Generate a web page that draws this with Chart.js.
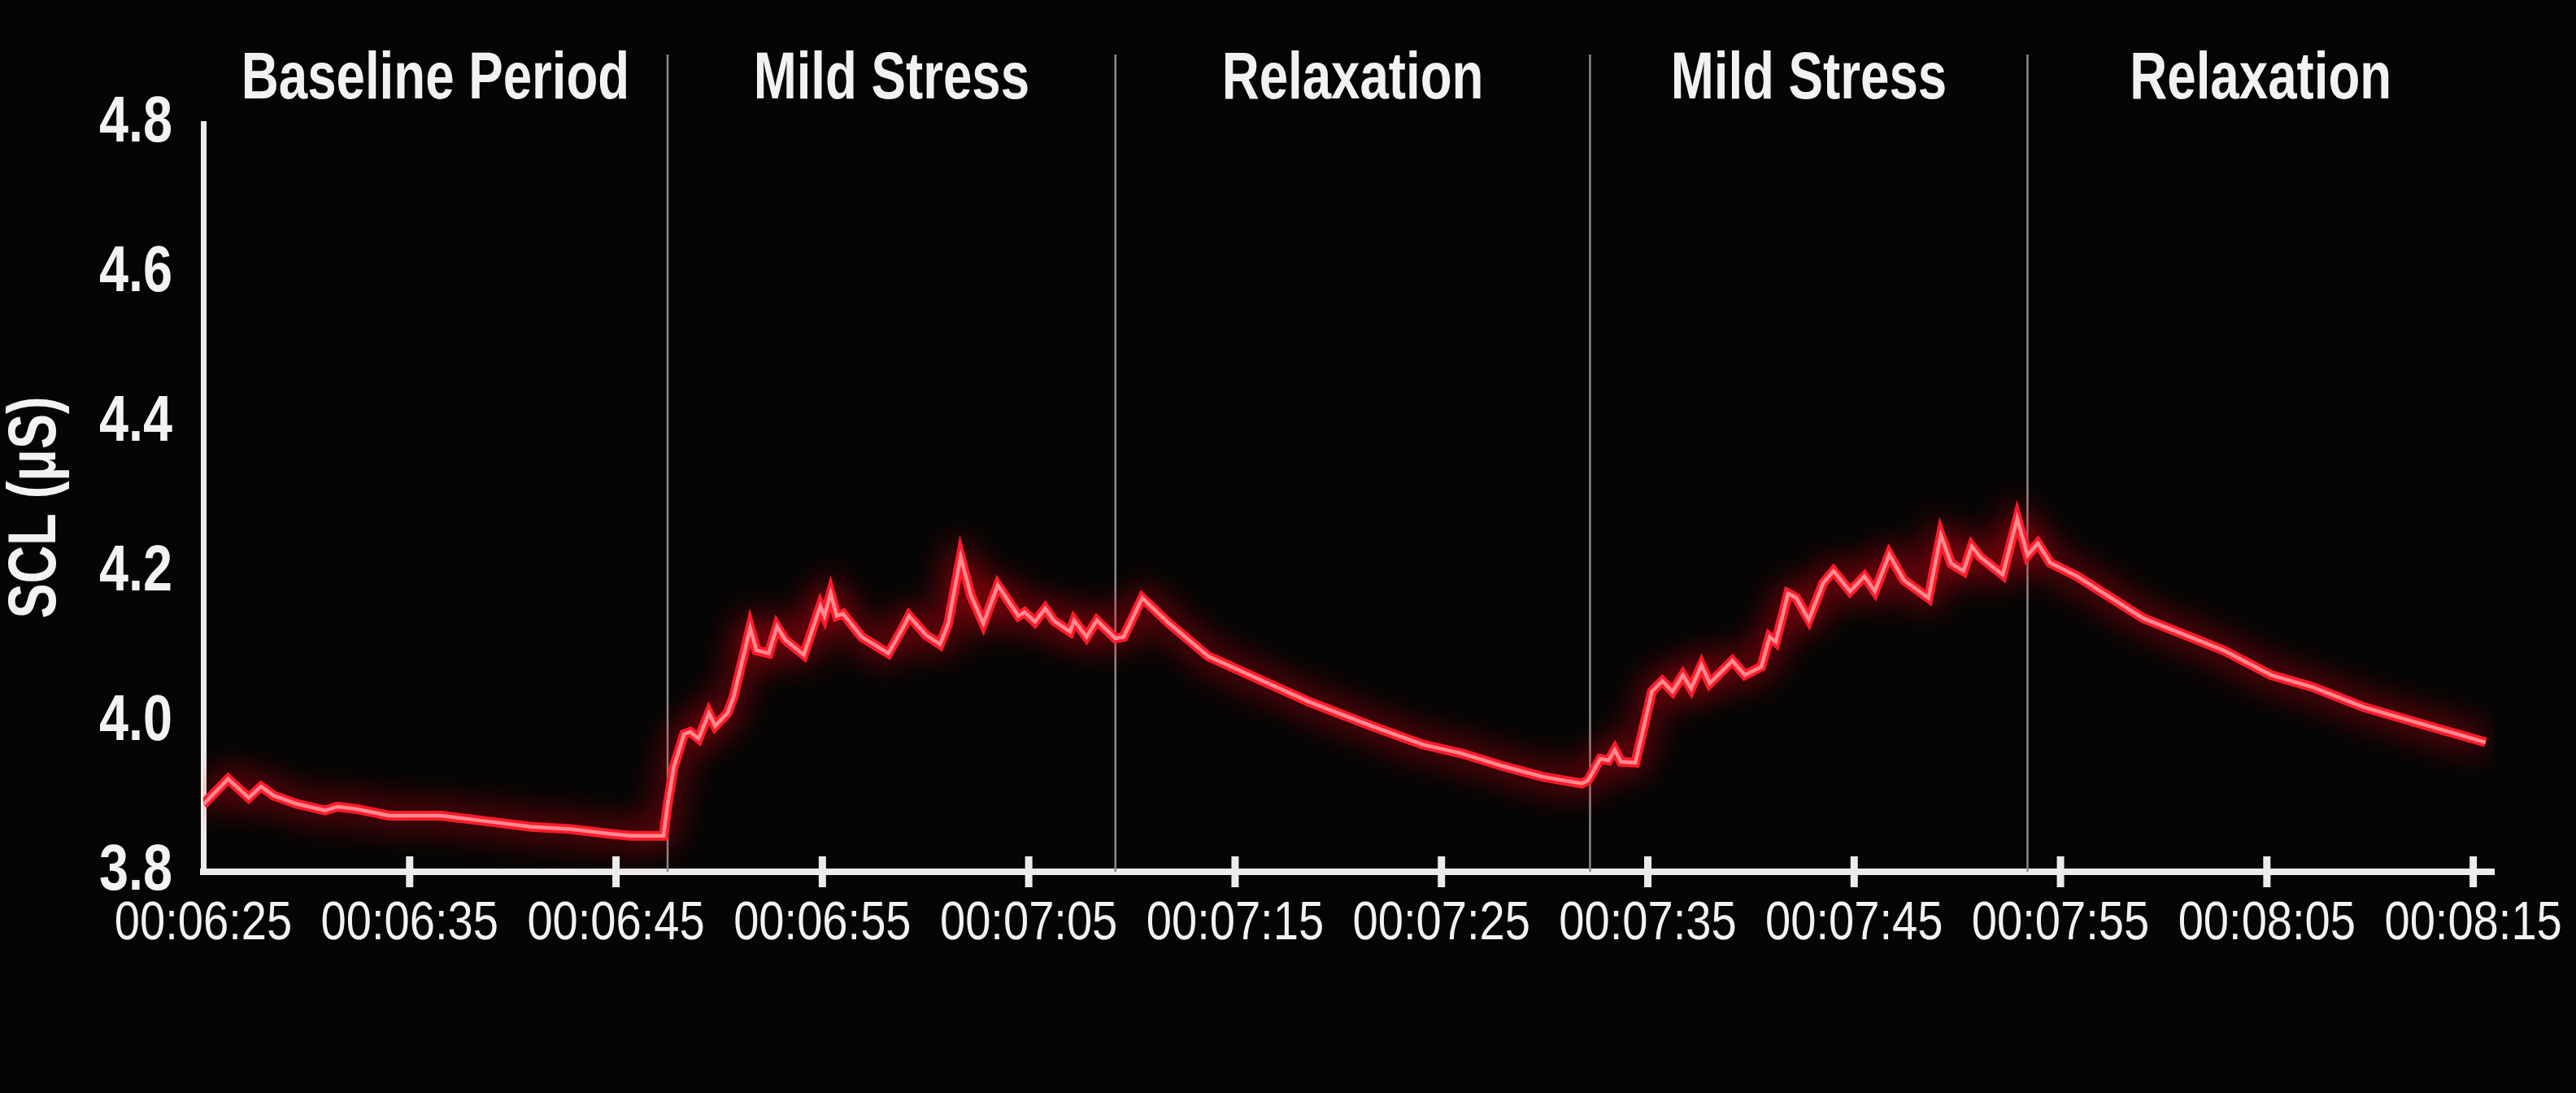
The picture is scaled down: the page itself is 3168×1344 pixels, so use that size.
<!DOCTYPE html>
<html>
<head>
<meta charset="utf-8">
<script src="https://cdn.jsdelivr.net/npm/chart.js@4.4.1/dist/chart.umd.min.js"></script>
<style>
    html, body { margin: 0; padding: 0; background: #050505; }
    #wrap { width: 3168px; height: 1344px; position: relative; }
</style>
</head>
<body>
<div id="wrap"><canvas id="sclChart"></canvas></div>
<script>
// seconds since session start, and skin conductance level
const timeSeconds = [
    385.0, 386.2, 387.2, 387.8, 388.4, 389.5, 390.9, 391.5, 392.4, 394.0,
    396.5, 398.9, 400.9, 402.8, 404.6, 405.7, 407.3, 407.5, 407.8, 408.3,
    408.6, 409.0, 409.5, 409.8, 410.4, 410.7, 411.5, 411.8, 412.4, 412.8,
    413.2, 414.1, 414.9, 415.1, 415.4, 415.7, 416.0, 416.9, 418.2, 418.8,
    419.2, 420.0, 420.7, 421.1, 421.7, 422.2, 422.8, 423.5, 424.5, 424.8,
    425.3, 425.8, 426.2, 427.0, 427.2, 427.8, 428.3, 429.2, 429.6, 430.5,
    431.8, 433.7, 435.7, 438.6, 441.6, 444.1, 446.0, 448.0, 449.9, 451.8,
    452.1, 452.7, 453.1, 453.4, 453.7, 454.4, 455.2, 455.7, 456.2, 456.7,
    457.1, 457.6, 458.0, 459.1, 459.7, 460.5, 460.9, 461.2, 461.8, 462.2,
    462.8, 463.5, 464.0, 464.8, 465.5, 466.0, 466.7, 467.4, 468.6, 469.2,
    469.7, 470.3, 470.7, 471.1, 472.2, 472.9, 473.4, 473.9, 474.5, 475.8,
    479.0, 482.9, 485.2, 487.2, 489.7, 492.7, 495.6
];
const sclValues = [
    3.890, 3.924, 3.899, 3.914, 3.902, 3.891, 3.882, 3.887, 3.884, 3.875,
    3.875, 3.867, 3.860, 3.857, 3.851, 3.848, 3.848, 3.890, 3.940, 3.984,
    3.987, 3.978, 4.012, 3.995, 4.012, 4.034, 4.126, 4.096, 4.092, 4.128,
    4.110, 4.090, 4.155, 4.142, 4.172, 4.142, 4.145, 4.114, 4.092, 4.121,
    4.142, 4.117, 4.104, 4.132, 4.221, 4.169, 4.132, 4.183, 4.142, 4.147,
    4.134, 4.152, 4.136, 4.121, 4.136, 4.114, 4.136, 4.112, 4.114, 4.166,
    4.132, 4.088, 4.063, 4.027, 3.995, 3.970, 3.958, 3.941, 3.927, 3.918,
    3.922, 3.951, 3.949, 3.963, 3.947, 3.946, 4.041, 4.055, 4.041, 4.063,
    4.045, 4.076, 4.052, 4.082, 4.063, 4.074, 4.114, 4.107, 4.172, 4.166,
    4.137, 4.186, 4.202, 4.175, 4.195, 4.175, 4.224, 4.190, 4.166, 4.250,
    4.212, 4.202, 4.235, 4.221, 4.197, 4.272, 4.223, 4.239, 4.213, 4.195,
    4.139, 4.096, 4.063, 4.047, 4.020, 3.996, 3.973
];

const tickSeconds = [385, 395, 405, 415, 425, 435, 445, 455, 465, 475, 485, 495];
const tickLabels = [
    '00:06:25', '00:06:35', '00:06:45', '00:06:55', '00:07:05', '00:07:15',
    '00:07:25', '00:07:35', '00:07:45', '00:07:55', '00:08:05', '00:08:15'
];
const yTicks = [3.8, 4.0, 4.2, 4.4, 4.6, 4.8];
const yTitle = 'SCL (μS)';

const phaseNames = ['Baseline Period', 'Mild Stress', 'Relaxation', 'Mild Stress', 'Relaxation'];
const phaseBounds = [385, 407.5, 429.2, 452.2, 473.4, 496];

const TEXT = '#f2f2f2';
const SANS = '"Liberation Sans", Arial, sans-serif';

const points = timeSeconds.map((t, i) => ({ x: t, y: sclValues[i] }));

// draws text squeezed along its baseline, to get a condensed face from Liberation Sans
function condensedText(ctx, text, x, y, squeeze, angle = 0) {
    ctx.save();
    ctx.translate(x, y);
    ctx.rotate(angle);
    ctx.scale(squeeze, 1);
    ctx.fillText(text, 0, 0);
    ctx.restore();
}

// red bloom behind the trace
const glowPlugin = {
    id: 'glow',
    beforeDatasetDraw(chart, args) {
        const ds = chart.data.datasets[args.index];
        if (!ds.glow) return;
        chart.ctx.save();
        chart.ctx.shadowColor = ds.glow.color;
        chart.ctx.shadowBlur = ds.glow.blur;
    },
    afterDatasetDraw(chart, args) {
        const ds = chart.data.datasets[args.index];
        if (!ds.glow) return;
        chart.ctx.restore();
    },
};

// phase separators, phase titles, axis labels and ticks that cross the x axis
const phasePlugin = {
    id: 'phases',
    beforeDatasetsDraw(chart) {
        const { ctx, chartArea, scales: { x } } = chart;
        ctx.save();
        ctx.strokeStyle = '#8c8c8c';
        ctx.lineWidth = 2.5;
        phaseBounds.slice(1, -1).forEach(b => {
            const px = x.getPixelForValue(b);
            ctx.beginPath();
            ctx.moveTo(px, 67);
            ctx.lineTo(px, chartArea.bottom);
            ctx.stroke();
        });
        ctx.restore();
    },
    afterDraw(chart) {
        const { ctx, chartArea, scales: { x, y } } = chart;
        ctx.save();
        ctx.fillStyle = TEXT;
        ctx.textAlign = 'center';
        ctx.textBaseline = 'middle';

        ctx.font = `bold 82px ${SANS}`;
        phaseNames.forEach((name, i) => {
            const mid = (x.getPixelForValue(phaseBounds[i]) + x.getPixelForValue(phaseBounds[i + 1])) / 2;
            condensedText(ctx, name, mid, 98, 0.776);
        });

        ctx.font = `66px ${SANS}`;
        tickSeconds.forEach((t, i) => {
            condensedText(ctx, tickLabels[i], x.getPixelForValue(t), chartArea.bottom + 65, 0.85);
        });

        ctx.font = `bold 84px ${SANS}`;
        condensedText(ctx, yTitle, 45, (chartArea.top + chartArea.bottom) / 2 + 12, 0.77, -Math.PI / 2);

        ctx.textAlign = 'right';
        ctx.font = `bold 80px ${SANS}`;
        yTicks.forEach(v => {
            condensedText(ctx, v.toFixed(1), chartArea.left - 38, y.getPixelForValue(v), 0.81);
        });

        ctx.strokeStyle = '#ececec';
        ctx.lineWidth = 9;
        tickSeconds.slice(1).forEach(t => {
            const px = x.getPixelForValue(t);
            ctx.beginPath();
            ctx.moveTo(px, chartArea.bottom - 19);
            ctx.lineTo(px, chartArea.bottom + 19);
            ctx.stroke();
        });
        ctx.restore();
    },
};

new Chart(document.getElementById('sclChart'), {
    type: 'line',
    data: {
        datasets: [
            {
                label: 'SCL core',
                data: points,
                borderColor: '#ff8a90',
                borderWidth: 4.5,
                pointRadius: 0,
                tension: 0,
                order: 0,
            },
            {
                label: 'SCL glow',
                data: points,
                borderColor: '#ff1a2a',
                borderWidth: 12,
                pointRadius: 0,
                tension: 0,
                order: 1,
                glow: { color: 'rgba(255, 0, 20, 1)', blur: 44 },
            },
        ],
    },
    options: {
        responsive: true,
        maintainAspectRatio: false,
        animation: false,
        layout: { padding: { top: 152, right: 101, left: 0, bottom: 0 } },
        plugins: {
            legend: { display: false },
            tooltip: { enabled: false },
        },
        scales: {
            x: {
                type: 'linear',
                min: phaseBounds[0],
                max: phaseBounds[phaseBounds.length - 1],
                afterBuildTicks(scale) {
                    scale.ticks = tickSeconds.map(v => ({ value: v }));
                },
                afterFit(scale) { scale.height = 272; },
                grid: { display: false, drawTicks: false },
                border: { display: true, color: '#ececec', width: 8 },
                ticks: { display: false },
            },
            y: {
                min: yTicks[0],
                max: yTicks[yTicks.length - 1],
                afterBuildTicks(scale) {
                    scale.ticks = yTicks.map(v => ({ value: v }));
                },
                afterFit(scale) { scale.width = 250; },
                grid: { display: false, drawTicks: false },
                border: { display: true, color: '#ececec', width: 7 },
                ticks: { display: false },
            },
        },
    },
    plugins: [glowPlugin, phasePlugin],
});
</script>
</body>
</html>
